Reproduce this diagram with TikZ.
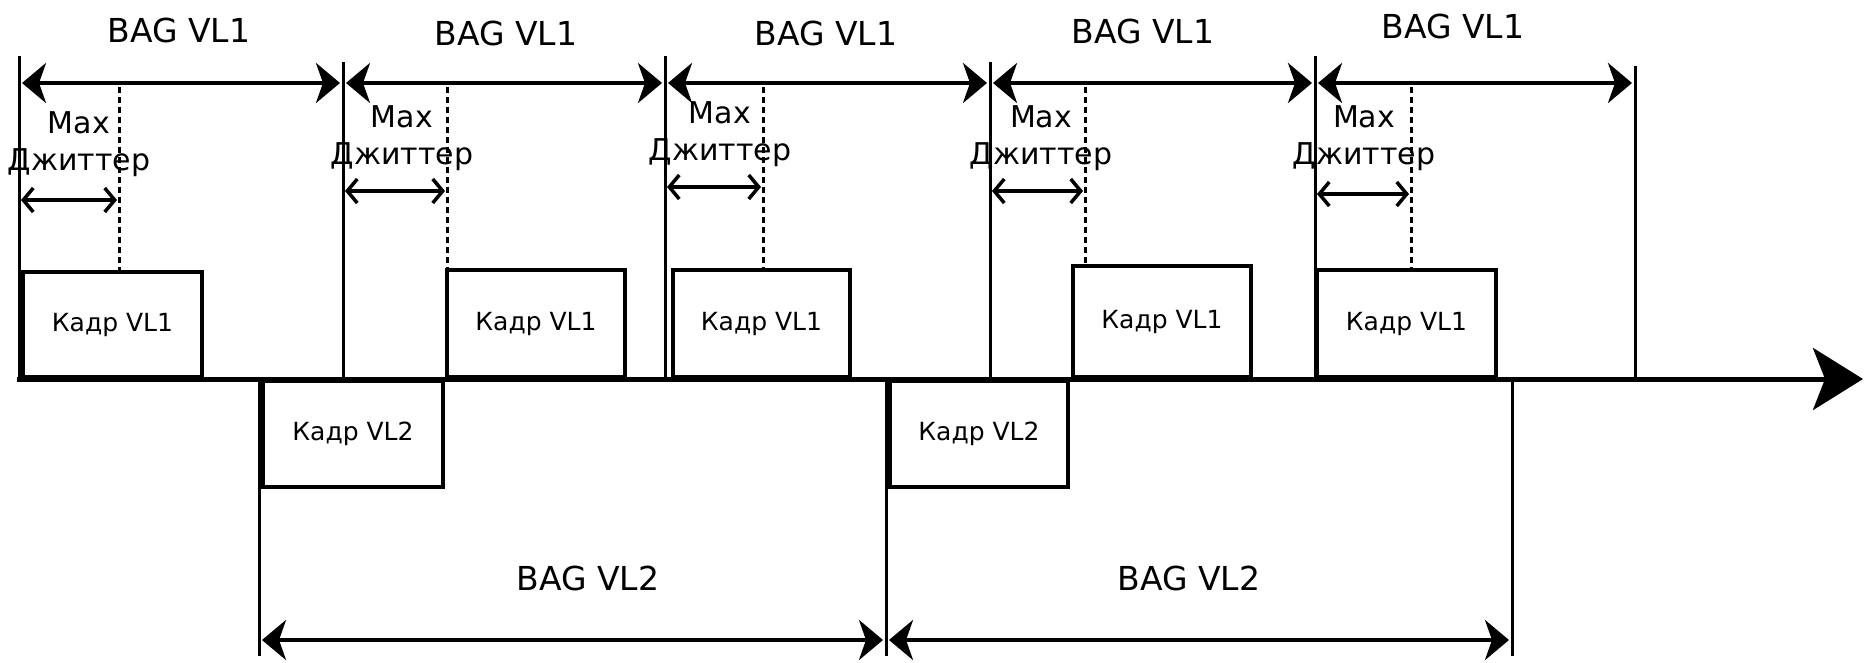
\documentclass[tikz,border=0pt]{standalone}
\usepackage{fontspec}
\setmainfont{DejaVu Sans}
\usetikzlibrary{arrows.meta}
\tikzset{
  vline/.style={line width=3pt},
  axisline/.style={line width=5pt,-{Stealth[length=50pt,width=62pt,inset=12pt]}},
  bagarrow/.style={line width=4pt,shorten <=3pt,shorten >=3pt,
    {Stealth[length=24pt,width=40pt,inset=7pt]}-{Stealth[length=24pt,width=40pt,inset=7pt]}},
  jitarrow/.style={line width=3.5pt,shorten <=2pt,shorten >=2pt,
    {Straight Barb[length=10pt,width=24pt]}-{Straight Barb[length=10pt,width=24pt]}},
  dashline/.style={line width=3pt,dash pattern=on 6pt off 4pt},
  framebox/.style={draw,line width=4pt,inner sep=0pt,fill=white,font=\fontsize{25}{30}\selectfont},
  baglabel/.style={font=\fontsize{33}{40}\selectfont},
  jitlabel/.style={font=\fontsize{30}{37}\selectfont,align=center,inner sep=0pt}
}
\begin{document}
\begin{tikzpicture}[x=1pt,y=-1pt]
\useasboundingbox (0,0) rectangle (1870,662);

% axis
\coordinate (ax0) at (17,379);
\coordinate (ax1) at (1863,379);

% VL1 period boundaries
\coordinate (t1) at (19,56);   \coordinate (b1) at (19,379);
\coordinate (t2) at (343,62);  \coordinate (b2) at (343,379);
\coordinate (t3) at (665,56);  \coordinate (b3) at (665,379);
\coordinate (t4) at (990,62);  \coordinate (b4) at (990,379);
\coordinate (t5) at (1315,56); \coordinate (b5) at (1315,379);
\coordinate (t6) at (1635,66); \coordinate (b6) at (1635,379);
\foreach \i in {1,...,6} \draw[vline] (t\i) -- (b\i);

% BAG VL1 arrows
\foreach \i in {1,...,6} \coordinate (a\i) at (t\i |- 0,83);
\draw[bagarrow] (a1) -- (a2);
\draw[bagarrow] (a2) -- (a3);
\draw[bagarrow] (a3) -- (a4);
\draw[bagarrow] (a4) -- (a5);
\draw[bagarrow] (a5) -- (a6);
\node[baglabel] (l1) at (179,30) {BAG VL1};
\node[baglabel] (l2) at (506,33) {BAG VL1};
\node[baglabel] (l3) at (826,33) {BAG VL1};
\node[baglabel] (l4) at (1143,31) {BAG VL1};
\node[baglabel] (l5) at (1453,26) {BAG VL1};

% VL1 frames
\node[framebox,anchor=south west,minimum width=179pt,minimum height=105pt] (k1) at (21,379) {Кадр VL1};
\node[framebox,anchor=south west,minimum width=178pt,minimum height=107pt] (k2) at (445,379) {Кадр VL1};
\node[framebox,anchor=south west,minimum width=177pt,minimum height=107pt] (k3) at (671,379) {Кадр VL1};
\node[framebox,anchor=south west,minimum width=178pt,minimum height=111pt] (k4) at (1071,379) {Кадр VL1};
\node[framebox,anchor=south west,minimum width=179pt,minimum height=107pt] (k5) at (1315,379) {Кадр VL1};

% jitter dashed lines
\coordinate (d1) at (119,87);  \draw[dashline] (d1) -- (d1 |- k1.north);
\coordinate (d2) at (447,87);  \draw[dashline] (d2) -- (d2 |- k2.north);
\coordinate (d3) at (763,87);  \draw[dashline] (d3) -- (d3 |- k3.north);
\coordinate (d4) at (1085,87); \draw[dashline] (d4) -- (d4 |- k4.north);
\coordinate (d5) at (1411,87); \draw[dashline] (d5) -- (d5 |- k5.north);

% jitter arrows
\draw[jitarrow] (t1 |- 0,200) -- (d1 |- 0,200);
\draw[jitarrow] (t2 |- 0,191) -- (d2 |- 0,191);
\draw[jitarrow] (t3 |- 0,187) -- (d3 |- 0,187);
\draw[jitarrow] (t4 |- 0,191) -- (d4 |- 0,191);
\draw[jitarrow] (t5 |- 0,194) -- (d5 |- 0,194);
\node[jitlabel] (j1) at (79,144) {Max\\Джиттер};
\node[jitlabel] (j2) at (402,138) {Max\\Джиттер};
\node[jitlabel] (j3) at (720,134) {Max\\Джиттер};
\node[jitlabel] (j4) at (1041,138) {Max\\Джиттер};
\node[jitlabel] (j5) at (1364,138) {Max\\Джиттер};

% VL2 boundaries
\coordinate (u1) at (259,379); \coordinate (w1) at (259,656);
\coordinate (u2) at (886,379); \coordinate (w2) at (886,656);
\coordinate (u3) at (1512,379); \coordinate (w3) at (1512,656);
\foreach \i in {1,2,3} \draw[vline] (u\i) -- (w\i);

% VL2 frames
\node[framebox,anchor=north west,minimum width=180pt,minimum height=106pt] (m1) at (261,379) {Кадр VL2};
\node[framebox,anchor=north west,minimum width=178pt,minimum height=106pt] (m2) at (888,379) {Кадр VL2};

% BAG VL2 arrows
\foreach \i in {1,2,3} \coordinate (c\i) at (u\i |- 0,640);
\draw[bagarrow] (c1) -- (c2);
\draw[bagarrow] (c2) -- (c3);
\node[baglabel] (n1) at (588,578) {BAG VL2};
\node[baglabel] (n2) at (1189,578) {BAG VL2};

% time axis
\draw[axisline] (ax0) -- (ax1);
\end{tikzpicture}
\end{document}
